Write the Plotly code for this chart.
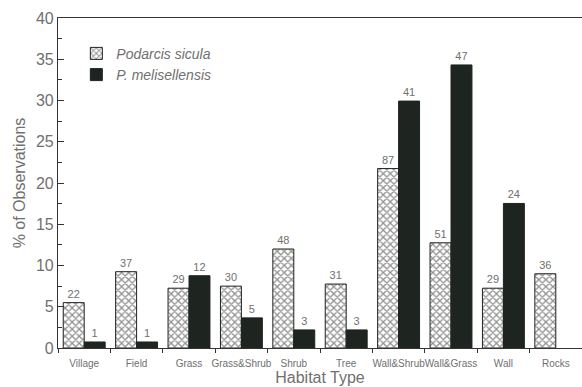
import plotly.graph_objects as go

categories = ["Village", "Field", "Grass", "Grass&Shrub", "Shrub", "Tree",
              "Wall&Shrub", "Wall&Grass", "Wall", "Rocks"]
sicula_pct = [5.5, 9.25, 7.25, 7.5, 12.0, 7.75, 21.75, 12.75, 7.25, 9.0]
sicula_n = [22, 37, 29, 30, 48, 31, 87, 51, 29, 36]
meli_pct = [0.73, 0.73, 8.76, 3.65, 2.19, 2.19, 29.93, 34.31, 17.52, None]
meli_n = [1, 1, 12, 5, 3, 3, 41, 47, 24, None]

gray = "#707070"
dark = "#1e241f"
font = "Liberation Sans, Arial, sans-serif"

fig = go.Figure()
fig.add_trace(go.Bar(
    x=categories, y=sicula_pct, name="<i>Podarcis sicula</i>",
    text=[str(v) for v in sicula_n], textposition="outside",
    textfont=dict(size=11, color=gray, family=font),
    constraintext="none", cliponaxis=False,
    marker=dict(color="white", line=dict(color=dark, width=1),
                pattern=dict(shape="x", fgcolor="#222222", bgcolor="white",
                             size=5, solidity=0.45)),
))
fig.add_trace(go.Bar(
    x=categories, y=meli_pct, name="<i>P. melisellensis</i>",
    text=[str(v) if v is not None else "" for v in meli_n], textposition="outside",
    textfont=dict(size=11, color=gray, family=font),
    constraintext="none", cliponaxis=False,
    marker=dict(color=dark, line=dict(color=dark, width=1)),
))

fig.update_layout(
    width=582, height=387,
    margin=dict(l=58, r=0, t=18, b=39),
    paper_bgcolor="white", plot_bgcolor="white",
    barmode="group", bargap=0.2, bargroupgap=0,
    font=dict(family=font, color=gray),
    showlegend=True,
    legend=dict(x=0.035, y=0.94, xanchor="left", yanchor="top",
                font=dict(size=14, color=gray, family=font),
                bgcolor="rgba(0,0,0,0)", tracegroupgap=0, itemwidth=30),
    xaxis=dict(
        type="category", tickson="boundaries", ticks="outside", ticklen=4,
        tickcolor="#333", showline=True, linecolor="#333", linewidth=1.2,
        mirror=True, showgrid=False, tickangle=0, automargin=False,
        ticklabelstandoff=6,
        tickfont=dict(size=10, color=gray, family=font),
        title=dict(text="Habitat Type", font=dict(size=16, color=gray, family=font), standoff=3),
    ),
    yaxis=dict(
        range=[0, 40], tickvals=[0, 5, 10, 15, 20, 25, 30, 35, 40],
        ticks="inside", ticklen=6, tickcolor="#333", automargin=False,
        showline=True, linecolor="#333", linewidth=1.2, showgrid=False, zeroline=False,
        minor=dict(ticks="inside", ticklen=4, dtick=2.5, tick0=0, tickcolor="#333", showgrid=False),
        tickfont=dict(size=16, color=gray, family=font),
        title=dict(text="% of Observations", font=dict(size=16, color=gray, family=font), standoff=6),
    ),
)

fig.write_html("out.html")
